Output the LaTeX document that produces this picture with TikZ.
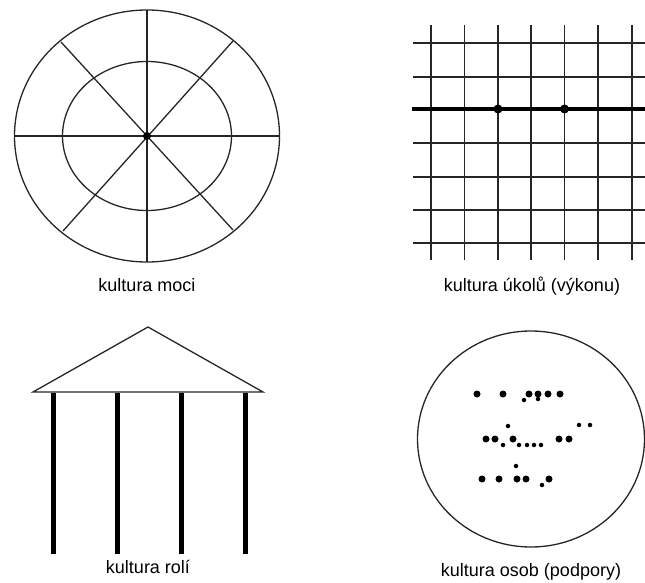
\documentclass[tikz,border=0pt]{standalone}
\usepackage{fontspec}
\setmainfont{Liberation Sans}
\begin{document}
\begin{tikzpicture}[x=1pt,y=-1pt,
  thin line/.style={line width=1.3pt,black!85},
  thick line/.style={line width=4pt},
  column/.style={line width=5pt},
  caption/.style={font=\fontsize{18}{20}\selectfont,anchor=base},
  bigdot/.style={fill=black,circle,inner sep=0pt,minimum size=7pt},
  smalldot/.style={fill=black,circle,inner sep=0pt,minimum size=4.5pt}]
\useasboundingbox (0,0) rectangle (645,583);
% --- power culture ---
\coordinate (c1) at (147,136);
\draw[thin line] (c1) ellipse [x radius=132.5, y radius=126];
\draw[thin line] (c1) ellipse [x radius=84.5, y radius=74.5];
\draw[thin line] (15,136) -- (280,136);
\draw[thin line] (147,10) -- (147,262);
\draw[thin line] (61,42) -- (233,230);
\draw[thin line] (233,41) -- (63,231);
\node[fill=black,circle,inner sep=0pt,minimum size=8pt] (hub) at (c1) {};
\node[caption] (l1) at (147,291) {kultura moci};
% --- task culture ---
\foreach \x in {431,464.5,498,531,564.5,598,632} \draw[thin line] (\x,25) -- (\x,260);
\foreach \y in {43,77,143,177,210,243} \draw[thin line] (413,\y) -- (645,\y);
\draw[thick line] (412,109) -- (645,109);
\node[fill=black,circle,inner sep=0pt,minimum size=9pt] (n1) at (498,109) {};
\node[fill=black,circle,inner sep=0pt,minimum size=9pt] (n2) at (564.5,109) {};
\node[caption] (l2) at (532,291) {kultura úkolů (výkonu)};
% --- role culture ---
\draw[thin line] (33,392) -- (148,327) -- (263,392) -- cycle;
\foreach \x in {53,117,181,245} \draw[column] (\x,393) -- (\x,554);
\node[caption] (l3) at (148,573) {kultura rolí};
% --- person culture ---
\draw[thin line] (531,439) ellipse [x radius=113.5, y radius=108];
\foreach \p in {(477,394),(503,394),(529,394),(538,394),(548,394),(560,394),
  (486,439),(495,439),(513,439),(559,439),(569,439),
  (482,479),(499,479),(517,479),(526,479),(549,479)} \node[bigdot] at \p {};
\foreach \p in {(524,400),(538,399),(508,426),(579,425),(590,425),
  (503,445),(519,445),(527,445),(534,445),(541,445),
  (516,466),(542,485)} \node[smalldot] at \p {};
\node[caption] (l4) at (531,576) {kultura osob (podpory)};
\end{tikzpicture}
\end{document}
